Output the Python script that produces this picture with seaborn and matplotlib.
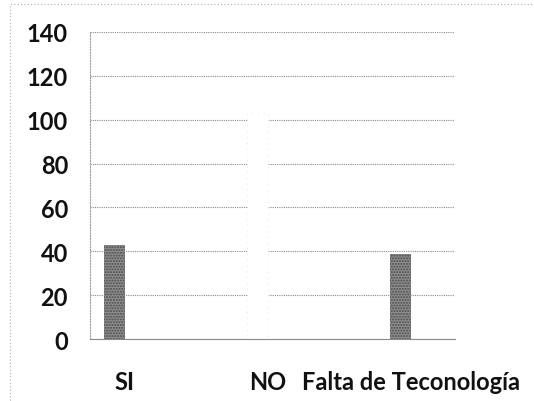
import numpy as np
import pandas as pd
import seaborn as sns
import matplotlib.pyplot as plt
import matplotlib.transforms as mtransforms

sns.set_style("white")
plt.rcParams["font.family"] = ["Lato", "DejaVu Sans"]

categorias = ["SI", "NO", "Falta de Teconología"]
valores = [43, 103, 39]
colores = ["#8f8f8f", "#ffffff", "#8f8f8f"]
yticks = [0, 20, 40, 60, 80, 100, 120, 140]

df = pd.DataFrame({"categoria": categorias, "valor": valores})

fig = plt.figure(figsize=(5.34, 4.02), dpi=100)
ax = fig.add_axes([0.169, 0.154, 0.683, 0.764])

# gridlines below bars
ax.set_axisbelow(True)
ax.yaxis.grid(True, linestyle=(0, (1, 1)), color="#8a8a8a", linewidth=0.8)

sns.barplot(data=df, x="categoria", y="valor", hue="categoria",
            palette=colores, width=0.15, legend=False, ax=ax,
            edgecolor="none", linewidth=0)
for patch, c in zip(ax.patches, colores):
    if c != "#ffffff":
        patch.set_hatch("......")
        patch.set_edgecolor("#4a4a4a")
        patch.set_linewidth(0)
    else:
        patch.set_edgecolor("#e0e0e0")
        patch.set_linestyle((0, (1, 6)))
        patch.set_linewidth(0.6)

ax.set_ylim(0, 140)
ax.set_yticks(yticks)
ax.set_xlim(-0.17, 2.38)
ax.set_xlabel("")
ax.set_ylabel("")

for s in ["top", "right"]:
    ax.spines[s].set_visible(False)
ax.spines["left"].set_linestyle((0, (1, 1.5)))
ax.spines["left"].set_color("#a0a0a0")
ax.spines["left"].set_linewidth(0.8)
ax.spines["bottom"].set_linestyle((0, (1, 1)))
ax.spines["bottom"].set_color("#8a8a8a")
ax.spines["bottom"].set_linewidth(0.8)

ax.tick_params(axis="y", length=0, pad=16, labelsize=17)
ax.tick_params(axis="x", length=0, pad=22, labelsize=17)
for lab in ax.get_yticklabels() + ax.get_xticklabels():
    lab.set_fontweight("bold")
    lab.set_color("#111111")

# shift x labels slightly right like the scan
offset = mtransforms.ScaledTranslation(10 / 100, 0, fig.dpi_scale_trans)
for lab in ax.get_xticklabels():
    lab.set_transform(lab.get_transform() + offset)

# dotted outer border of the chart area
border = plt.Rectangle((0.018, -0.05), 1.2, 1.037, transform=fig.transFigure,
                       fill=False, edgecolor="#b0b0b0", linewidth=0.8,
                       linestyle=(0, (1, 2)))
fig.add_artist(border)

fig.savefig("out.png", dpi=100)
